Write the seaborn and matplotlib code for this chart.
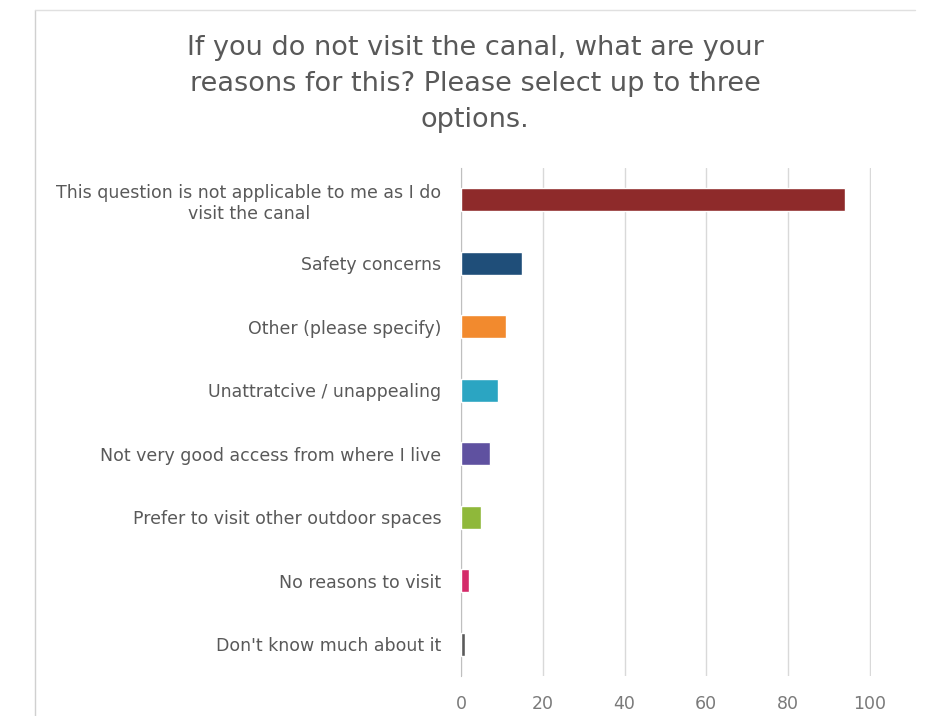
import numpy as np
import pandas as pd
import matplotlib.pyplot as plt
import seaborn as sns
from matplotlib.lines import Line2D

reasons = [
    "This question is not applicable to me as I do\nvisit the canal",
    "Safety concerns",
    "Other (please specify)",
    "Unattratcive / unappealing",
    "Not very good access from where I live",
    "Prefer to visit other outdoor spaces",
    "No reasons to visit",
    "Don't know much about it",
]
counts = [94, 15, 11, 9, 7, 5, 2, 1]
colours = ["#8e2a2a", "#1f4e79", "#f28a2e", "#2ba5c2", "#5f51a0", "#8fb83a", "#d42a69", "#5a5a5a"]
xticks = [0, 20, 40, 60, 80, 100]

title = "If you do not visit the canal, what are your\nreasons for this? Please select up to three\noptions."

sns.set_style("white")
plt.rcParams['font.family'] = ['DejaVu Sans']

df = pd.DataFrame({"reason": reasons, "count": counts})

fig = plt.figure(figsize=(9.34, 7.16), dpi=100)
ax = fig.add_axes([461/934, 1 - 676/716, (871-461)/934, (676-168)/716])

sns.barplot(data=df, y="reason", x="count", hue="reason", palette=colours,
            legend=False, width=0.36, saturation=1, ax=ax, zorder=3)

ax.set_xlim(0, 100.3)
ax.set_xticks(xticks)
ax.grid(axis="x", color="#d9d9d9", linewidth=1, zorder=0)
ax.set_xlabel("")
ax.set_ylabel("")
for s in ["top", "right", "bottom"]:
    ax.spines[s].set_visible(False)
ax.spines["left"].set_color("#bfbfbf")
ax.tick_params(axis="both", length=0, colors="#595959")
ax.tick_params(axis="x", pad=14, labelsize=12.5, labelcolor="#7a7a7a")
ax.tick_params(axis="y", pad=14, labelsize=12.5)
for lab in ax.get_yticklabels():
    lab.set_multialignment("center")

fig.text(475/934, 1 - 84/716, title, ha="center", va="center",
         fontsize=19.5, color="#595959", linespacing=1.5)

# chart frame edges
fig.add_artist(Line2D([35/934, 35/934], [0, 1 - 10/716], color="#d0d0d0", linewidth=1))
fig.add_artist(Line2D([35/934, 915/934], [1 - 10/716, 1 - 10/716], color="#e0e0e0", linewidth=1))

fig.savefig("out.png", dpi=100)
